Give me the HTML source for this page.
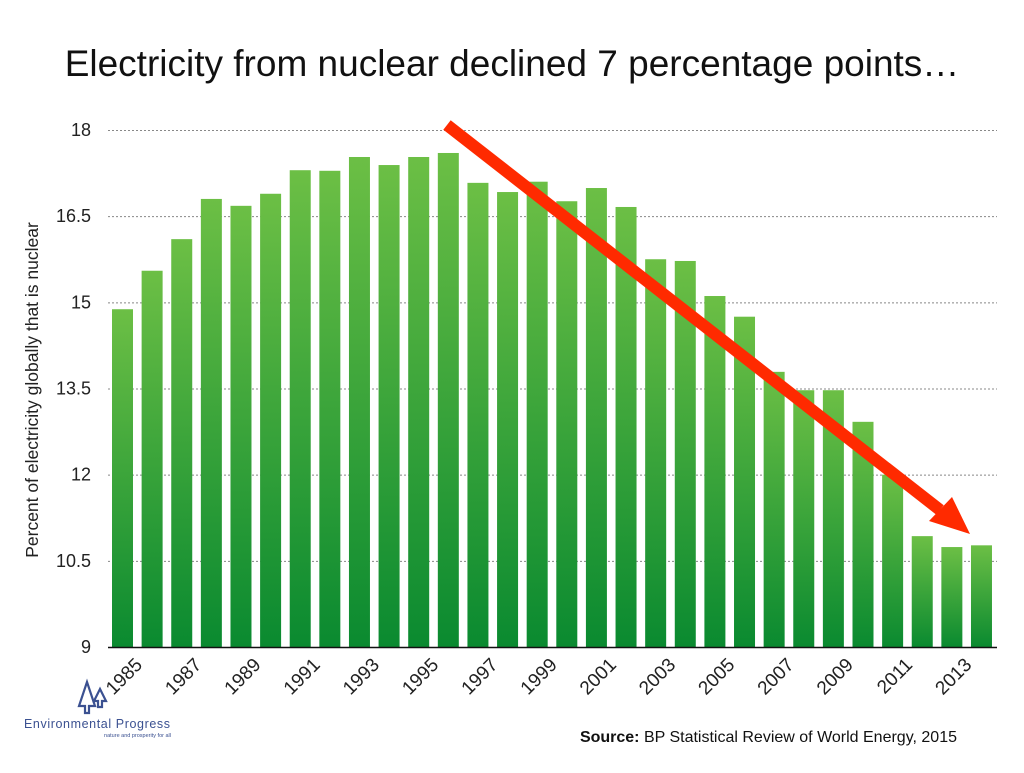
<!DOCTYPE html>
<html><head><meta charset="utf-8"><style>
body{margin:0;background:#fff;width:1024px;height:768px;overflow:hidden;font-family:"Liberation Sans",sans-serif}
</style></head><body>
<svg id="chart" width="1024" height="768" xmlns="http://www.w3.org/2000/svg">
<defs>
<linearGradient id="g" x1="0" y1="0" x2="0" y2="1"><stop offset="0" stop-color="#6cbf45"/><stop offset="1" stop-color="#0a8a30"/></linearGradient>
</defs>
<text x="512" y="76" text-anchor="middle" font-size="37" fill="#111">Electricity from nuclear declined 7 percentage points…</text>
<text transform="translate(38,390) rotate(-90)" text-anchor="middle" font-size="17.5" fill="#222">Percent of electricity globally that is nuclear</text>
<g id="grid"></g><g id="bars"></g><g id="xl"></g>
<line x1="108" y1="647.5" x2="997" y2="647.5" stroke="#111" stroke-width="1.5"/>
<g>
<line x1="447" y1="125" x2="940" y2="510" stroke="#ff2a00" stroke-width="12"/>
<polygon points="970,534 929,521 952,497" fill="#ff2a00"/>
</g>
<g fill="none" stroke="#3b5191" stroke-width="2.2">
<path d="M87,682 L79,706 L85,706 L85,713 L89,713 L89,706 L95,706 Z"/>
<path d="M100,689 L94,701 L98,701 L98,707 L102,707 L102,701 L106,701 Z"/>
</g>
<text x="24" y="728" font-size="12.5" fill="#3b5191" letter-spacing="0.6">Environmental Progress</text>
<text x="171" y="737" text-anchor="end" font-size="5.5" fill="#3b5191">nature and prosperity for all</text>
<text x="957" y="742" text-anchor="end" font-size="16" fill="#111"><tspan font-weight="bold">Source:</tspan> BP Statistical Review of World Energy, 2015</text>
</svg>
<script>
const years=[1985,1986,1987,1988,1989,1990,1991,1992,1993,1994,1995,1996,1997,1998,1999,2000,2001,2002,2003,2004,2005,2006,2007,2008,2009,2010,2011,2012,2013,2014];
const values=[14.88,15.55,16.10,16.80,16.68,16.89,17.30,17.29,17.53,17.39,17.53,17.60,17.08,16.92,17.10,16.76,16.99,16.66,15.75,15.72,15.11,14.75,13.79,13.47,13.47,12.92,12.0,10.93,10.74,10.77];
const yTicks=[9,10.5,12,13.5,15,16.5,18];
const NS="http://www.w3.org/2000/svg";
const y=v=>647-(v-9)*(517/9);
const x=i=>122.5+i*29.62;
function mk(t,a,p){const e=document.createElementNS(NS,t);for(const k in a)e.setAttribute(k,a[k]);p.appendChild(e);return e;}
const grid=document.getElementById('grid'),bars=document.getElementById('bars'),xl=document.getElementById('xl');
yTicks.forEach(t=>{
 if(t>9){const l=mk('line',{x1:108,x2:997,y1:y(t)+0.5,y2:y(t)+0.5,stroke:'#888','stroke-dasharray':'2,2','stroke-width':1},grid);
 
 }
 const tx=mk('text',{x:91,y:y(t)+6,'text-anchor':'end','font-size':18,fill:'#222'},grid);
 tx.textContent=t;
 
 
});
values.forEach((v,i)=>{
 const r=mk('rect',{x:x(i)-10.5,y:y(v),width:21,height:647-y(v),fill:'url(#g)'},bars);
 
 
 if(years[i]%2===1){
  const cx=x(i)+11,cy=656;
  const t=mk('text',{x:cx,y:cy,'text-anchor':'end','font-size':19,fill:'#222',transform:`rotate(-45 ${cx} ${cy})`},xl);
  t.setAttribute('dy','14');
  t.textContent=years[i];
  
  
 }
});
</script>
</body></html>
